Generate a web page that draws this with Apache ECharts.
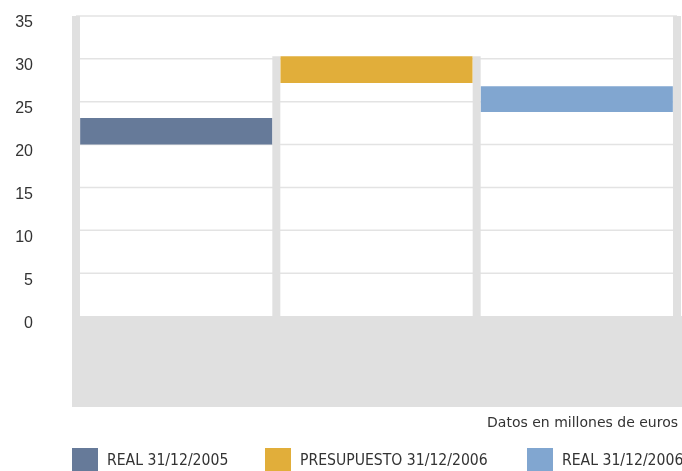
<!DOCTYPE html>
<html>
<head>
<meta charset="utf-8">
<script src="https://cdn.jsdelivr.net/npm/echarts@6/dist/echarts.min.js"></script>
<style>html,body{margin:0;padding:0;background:#fff}#c{width:682px;height:471px}</style>
</head>
<body>
<div id="c"></div>
<script>
var categories = ['REAL 31/12/2005', 'PRESUPUESTO 31/12/2006', 'REAL 31/12/2006'];
var lowValues = [20.0, 27.2, 23.8];
var highValues = [23.1, 30.3, 26.8];
var yTicks = [0, 5, 10, 15, 20, 25, 30, 35];
var colors = ['#667a99', '#e1ae3a', '#81a6d0'];
var unitNote = 'Datos en millones de euros';

var Y_MIN = -10.6, Y_MAX = 35;
var GRAY = '#e0e0e0';
var sepTop = Math.max.apply(null, highValues);

var chart = echarts.init(document.getElementById('c'));

var series = [];
// gridlines
series.push({
  type: 'custom', xAxisIndex: 1, yAxisIndex: 0, silent: true, z: 1,
  data: yTicks.filter(function (v) { return v > 0; }).map(function (v) { return [v]; }),
  renderItem: function (params, api) {
    var v = api.value(0);
    var p1 = api.coord([0, v]), p2 = api.coord([3, v]);
    return { type: 'line', shape: { x1: p1[0], y1: p1[1], x2: p2[0], y2: p2[1] },
      style: { stroke: '#e3e3e3', lineWidth: 1.5 } };
  }
});
// gray bottom band
series.push({
  type: 'custom', xAxisIndex: 1, yAxisIndex: 0, silent: true, z: 2,
  data: [[0, 3]],
  renderItem: function (params, api) {
    var p1 = api.coord([api.value(0), 0]), p2 = api.coord([api.value(1), Y_MIN]);
    return { type: 'rect', shape: { x: p1[0] - 4, y: p1[1], width: p2[0] - p1[0] + 9, height: p2[1] - p1[1] },
      style: { fill: GRAY } };
  }
});
// vertical strips
series.push({
  type: 'custom', xAxisIndex: 1, yAxisIndex: 0, silent: true, z: 2,
  data: [[0, Y_MAX], [1, sepTop], [2, sepTop], [3, Y_MAX]],
  renderItem: function (params, api) {
    var p1 = api.coord([api.value(0), api.value(1)]), p2 = api.coord([api.value(0), Y_MIN]);
    return { type: 'rect', shape: { x: p1[0] - 4, y: p1[1], width: 8, height: p2[1] - p1[1] },
      style: { fill: GRAY } };
  }
});
// base (transparent)
series.push({
  name: 'base', type: 'bar', stack: 'f', barWidth: 192, z: 3, silent: true,
  itemStyle: { color: 'transparent' },
  data: lowValues
});
categories.forEach(function (c, i) {
  series.push({
    name: c, type: 'bar', stack: 'f', barWidth: 192, z: 3,
    itemStyle: { color: colors[i] },
    data: categories.map(function (_, j) { return j === i ? +(highValues[j] - lowValues[j]).toFixed(2) : '-'; })
  });
});

var legends = [
  { left: 72, name: categories[0] },
  { left: 265, name: categories[1] },
  { left: 527, name: categories[2] }
].map(function (l) {
  return {
    left: l.left, top: 448, padding: 0, orient: 'horizontal',
    data: [l.name], icon: 'rect', itemWidth: 26, itemHeight: 26,
    selectedMode: false,
    textStyle: { fontSize: 15.6, color: '#333', fontFamily: '"DejaVu Sans Condensed", sans-serif', padding: [0, 0, 0, 4] }
  };
});

chart.setOption({
  animation: false,
  title: {
    text: unitNote, right: 4, top: 416, padding: 0,
    textStyle: { fontSize: 14, fontWeight: 'normal', color: '#333', fontFamily: '"DejaVu Sans", sans-serif' }
  },
  legend: legends,
  grid: { left: 76, right: 5, top: 16, bottom: 64 },
  xAxis: [
    { type: 'category', data: categories, boundaryGap: true,
      axisLine: { show: false }, axisTick: { show: false }, axisLabel: { show: false }, splitLine: { show: false } },
    { type: 'value', min: 0, max: 3, show: false }
  ],
  yAxis: {
    type: 'value', min: Y_MIN, max: Y_MAX,
    axisLine: { show: false }, axisTick: { show: false }, splitLine: { show: false },
    axisLabel: {
      customValues: yTicks, margin: 43, fontSize: 16, color: '#333',
      fontFamily: '"Liberation Sans", sans-serif', verticalAlign: 'top', lineHeight: 14,
      formatter: function (v) { return v < 0 ? '' : String(v); }
    }
  },
  series: series
});
</script>
</body>
</html>
